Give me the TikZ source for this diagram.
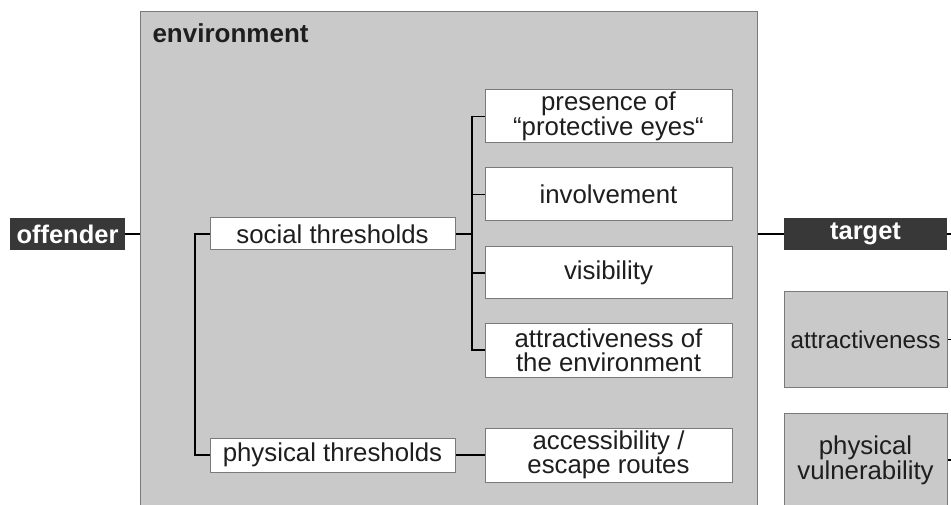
\documentclass[tikz,border=0pt]{standalone}
\usepackage{fontspec}
\setmainfont{Liberation Sans}
\definecolor{envfill}{HTML}{C9C9C9}
\definecolor{boxborder}{HTML}{7A7A7A}
\definecolor{darkfill}{HTML}{383838}
\definecolor{textgray}{HTML}{1E1E1E}
\begin{document}
\begin{tikzpicture}[x=1pt,y=-1pt,
  font=\fontsize{25.8}{24}\selectfont,
  whitebox/.style={draw=boxborder, fill=white, line width=1pt, text=textgray, align=center, inner sep=0pt, minimum width=247pt},
  threshbox/.style={draw=boxborder, fill=white, line width=1pt, text=textgray, align=center, inner sep=0pt, minimum width=245pt},
  darkbox/.style={fill=darkfill, text=white, font=\fontsize{25.5}{24}\selectfont\bfseries, inner sep=0pt, minimum height=32pt},
  graybox/.style={draw=boxborder, fill=envfill, line width=1pt, text=textgray, align=center, inner sep=0pt, minimum width=163pt},
  conn/.style={line width=1.5pt, black}]
\useasboundingbox (0,0) rectangle (951,505);
\clip (0,0) rectangle (951,505);
% environment frame
\node[draw=boxborder, fill=envfill, line width=1pt, minimum width=617pt, minimum height=500pt, inner sep=0pt] (env) at (448.5,262) {};
\node[anchor=west, text=textgray, font=\fontsize{26}{24}\selectfont\bfseries] (envlabel) at (149,33) {environment};
% actors
\node[darkbox, minimum width=115pt] (offender) at (67.5,234) {offender};
\node[darkbox, minimum width=163pt] (target) at (865.5,234) {target};
% thresholds
\node[threshbox, minimum height=32pt] (social) at (332.5,234) {social thresholds};
\node[threshbox, minimum height=34pt] (physical) at (332.5,455) {physical thresholds};
% factors
\node[whitebox, minimum height=53pt] (presence) at (608.5,116.5) {presence of\\“protective eyes“};
\node[whitebox, minimum height=53pt] (involvement) at (608.5,194.5) {involvement};
\node[whitebox, minimum height=52pt] (visibility) at (608.5,273) {visibility};
\node[whitebox, minimum height=54pt] (attrenv) at (608.5,350) {attractiveness of\\the environment};
\node[whitebox, minimum height=54pt] (access) at (608.5,455) {accessibility /\\escape routes};
% target properties
\node[graybox, minimum height=95pt, font=\fontsize{24.3}{24}\selectfont] (attract) at (865.5,339.5) {attractiveness};
\node[graybox, minimum height=94pt] (vuln) at (865.5,460) {physical\\vulnerability};
% helper coordinates
\coordinate (lbr) at (195,0);
\coordinate (rbr) at (472,0);
\coordinate (edge) at (951,0);
% connectors
\draw[conn] (offender.east) -- (offender.east -| env.west);
\draw[conn] (social.west) -- (social.west -| lbr) |- (physical.west);
\draw[conn] (social.east) -- (social.east -| rbr);
\draw[conn] (presence.west) -| (attrenv.west -| rbr) -- (attrenv.west);
\draw[conn] (involvement.west -| rbr) -- (involvement.west);
\draw[conn] (visibility.west -| rbr) -- (visibility.west);
\draw[conn] (physical.east) -- (access.west);
\draw[conn] (env.east |- target.west) -- (target.west);
\draw[conn] (target.east) -- (target.east -| edge);
\draw[conn] (attract.east) -- (attract.east -| edge);
\draw[conn] (vuln.east) -- (vuln.east -| edge);
\end{tikzpicture}
\end{document}
